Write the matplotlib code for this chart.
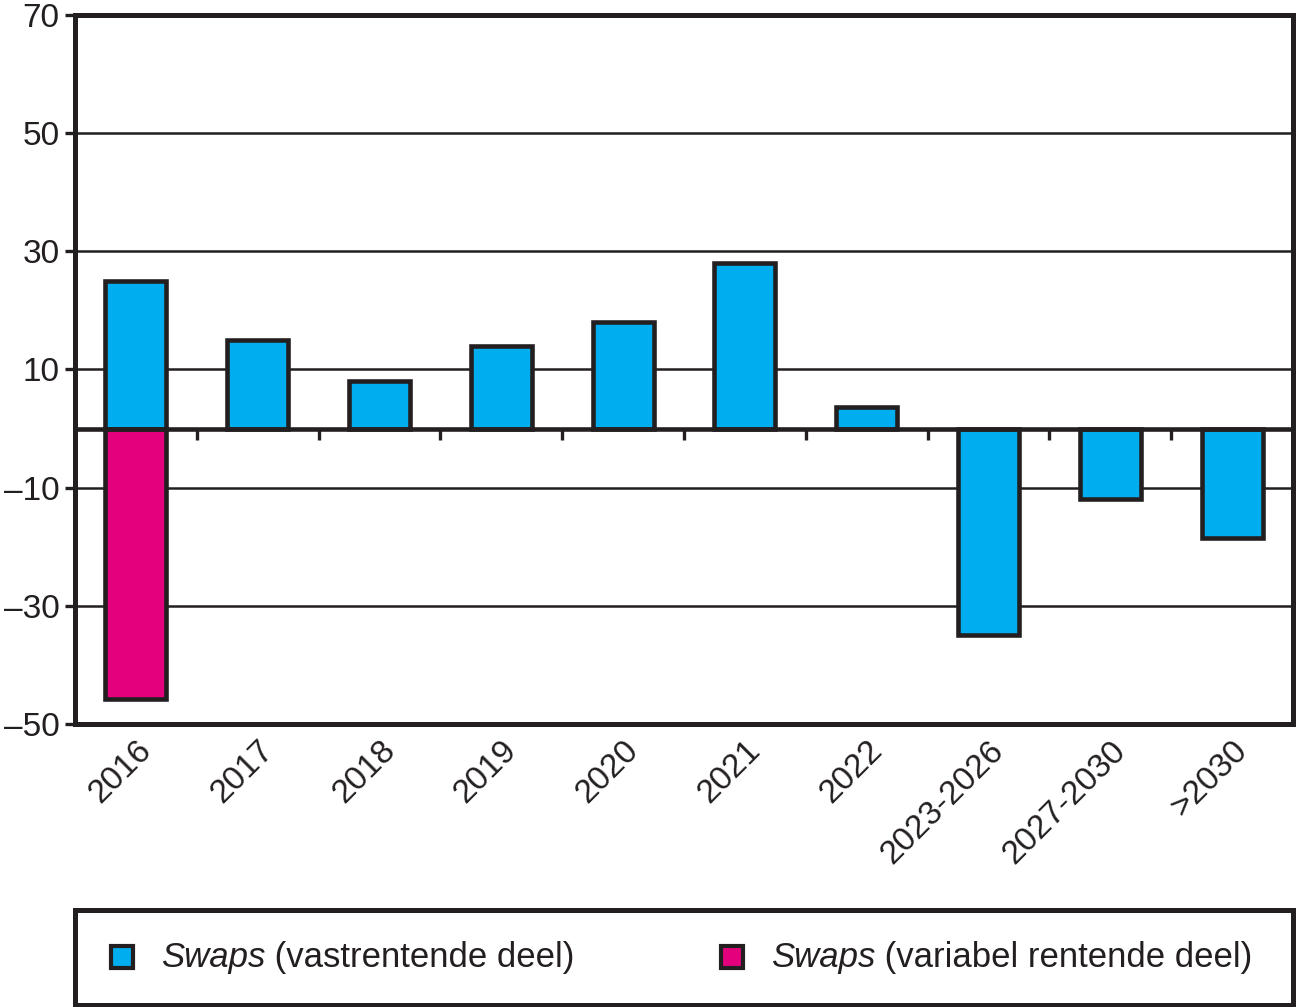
import matplotlib
matplotlib.use("Agg")
import matplotlib.pyplot as plt
from matplotlib.patches import Rectangle

categories = ["2016", "2017", "2018", "2019", "2020", "2021", "2022",
              "2023-2026", "2027-2030", ">2030"]
vast = [25, 15, 8, 14, 18, 28, 3.7, -35, -12, -18.6]
variabel = [-45.7, 0, 0, 0, 0, 0, 0, 0, 0, 0]
yticks = [70, 50, 30, 10, -10, -30, -50]
ytick_labels = ["70", "50", "30", "10", "\u201310", "\u201330", "\u201350"]
legend_labels = [("Swaps", " (vastrentende deel)"),
                 ("Swaps", " (variabel rentende deel)")]

BLUE = "#00AEEF"
PINK = "#E4007C"
DARK = "#231F20"

plt.rcParams['font.family'] = ['Liberation Sans', 'DejaVu Sans']

fig = plt.figure(figsize=(12.96, 10.07), dpi=100)
W, H = 1296, 1007
ax = fig.add_axes([75 / W, 1 - 724 / H, (1293 - 75) / W, (724 - 15) / H])

x = list(range(len(categories)))
ax.set_xlim(-0.5, len(categories) - 0.5)
ax.set_ylim(-50, 70)

for y in yticks[1:-1]:
    ax.axhline(y, color=DARK, lw=1.8, zorder=1)

ax.bar(x, vast, width=0.5, color=BLUE, edgecolor=DARK, linewidth=3.3, zorder=2)
ax.bar([x[i] for i in range(len(x)) if variabel[i] != 0],
       [v for v in variabel if v != 0], width=0.5, color=PINK,
       edgecolor=DARK, linewidth=3.3, zorder=2)

ax.axhline(0, color=DARK, lw=3.3, zorder=3)
bounds = [i + 0.5 for i in range(len(categories) - 1)]
ax.vlines(bounds, -2.0, 0, color=DARK, lw=2.4, zorder=3)

ax.set_yticks(yticks)
ax.set_yticklabels(ytick_labels, fontsize=24, color=DARK)
ax.tick_params(axis='y', direction='out', length=7, width=2.4, color=DARK, pad=4)
ax.set_xticks(x)
ax.set_xticklabels(categories, rotation=45, ha='right', rotation_mode='anchor',
                   fontsize=24, color=DARK)
ax.tick_params(axis='x', length=0, pad=8)
for s in ax.spines.values():
    s.set_linewidth(3.6)
    s.set_color(DARK)

# legend box
lax = fig.add_axes([75 / W, 1 - 1005 / H, (1293 - 75) / W, (1005 - 910) / H])
lax.set_xlim(75, 1293)
lax.set_ylim(1005, 910)
lax.set_xticks([])
lax.set_yticks([])
for s in lax.spines.values():
    s.set_linewidth(3.6)
    s.set_color(DARK)

colors = [BLUE, PINK]
mx = [111, 721]
for (it, rest), c, m in zip(legend_labels, colors, mx):
    lax.add_patch(Rectangle((m, 946), 22, 22, facecolor=c, edgecolor=DARK,
                            lw=3.0))
    t = lax.text(m + 50, 958, it, style='italic', fontsize=25, color=DARK,
                 va='center', ha='left')
    lax.annotate(rest, xy=(1, 0.5), xycoords=t, va='center', ha='left',
                 fontsize=25, color=DARK)

fig.savefig("out.png", dpi=100)
